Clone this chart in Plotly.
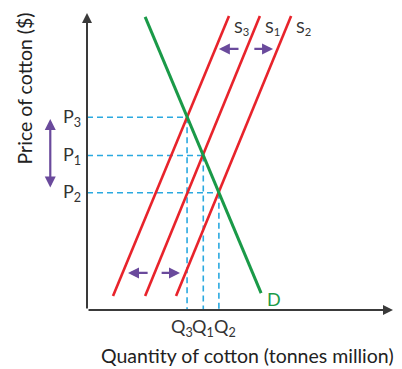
import plotly.graph_objects as go

# Demand curve endpoints (quantity, price)
demand_q = [19.0, 56.9]
demand_p = [98.7, 5.7]

# Supply curves: S3 (decrease), S1 (original), S2 (increase)
supply_names = ["S<sub>3</sub>", "S<sub>1</sub>", "S<sub>2</sub>"]
supply_q = [[8.5, 46.4], [19.0, 56.5], [29.1, 66.7]]
supply_p = [[4.7, 99.0], [4.7, 99.0], [4.7, 99.0]]

# Equilibrium points for S3, S1, S2
eq_q = [32.7, 38.0, 43.1]
eq_p = [64.9, 52.0, 39.5]
price_labels = ["P<sub>3</sub>", "P<sub>1</sub>", "P<sub>2</sub>"]
qty_labels = ["Q<sub>3</sub>", "Q<sub>1</sub>", "Q<sub>2</sub>"]
qty_label_shift = [-5, 0, 6]   # pixel nudges so the crowded labels sit side by side

RED = "#e8232b"
GREEN = "#1a9a48"
BLUE = "#2aa9e0"
PURPLE = "#6a4a9c"
AXIS = "#3a3a3a"
TEXT = "#333333"
FONT = "Lato"

fig = go.Figure()

# Dashed guide lines from the axes to each equilibrium
for q, p in zip(eq_q, eq_p):
    fig.add_trace(go.Scatter(x=[0, q], y=[p, p], mode="lines",
                             line=dict(color=BLUE, width=1.6, dash="6px,4px"),
                             hoverinfo="skip", showlegend=False))
    fig.add_trace(go.Scatter(x=[q, q], y=[p, 0], mode="lines",
                             line=dict(color=BLUE, width=1.6, dash="6px,4px"),
                             hoverinfo="skip", showlegend=False))

# Supply curves
for q, p in zip(supply_q, supply_p):
    fig.add_trace(go.Scatter(x=q, y=p, mode="lines",
                             line=dict(color=RED, width=2.6),
                             showlegend=False))

# Demand curve
fig.add_trace(go.Scatter(x=demand_q, y=demand_p, mode="lines",
                         line=dict(color=GREEN, width=3),
                         showlegend=False))

ann = []

# Axes with arrowheads
ann.append(dict(x=0, y=100, ax=0, ay=0, xref="x", yref="y", axref="x", ayref="y",
                showarrow=True, arrowhead=2, arrowsize=1, arrowwidth=2,
                arrowcolor=AXIS, text=""))
ann.append(dict(x=100, y=0, ax=0, ay=0, xref="x", yref="y", axref="x", ayref="y",
                showarrow=True, arrowhead=2, arrowsize=1, arrowwidth=2,
                arrowcolor=AXIS, text=""))

# Shift arrows between supply curves (top and bottom)
shift_arrows = [
    (50.0, 87.9, 43.1, 87.9), (54.2, 87.9, 60.8, 87.9),
    (20.3, 12.5, 13.4, 12.5), (23.9, 12.5, 30.4, 12.5),
]
for x0, y0, x1, y1 in shift_arrows:
    ann.append(dict(x=x1, y=y1, ax=x0, ay=y0, xref="x", yref="y",
                    axref="x", ayref="y", showarrow=True, arrowhead=2,
                    arrowsize=1, arrowwidth=2.2, arrowcolor=PURPLE, text=""))

# Price-movement double arrow beside the price axis
ann.append(dict(x=-0.12, y=0.643, ax=0, ay=70, xref="paper", yref="paper",
                axref="pixel", ayref="pixel", showarrow=True, arrowhead=2,
                startarrowhead=2, arrowside="end+start", arrowsize=1,
                startarrowsize=1, arrowwidth=2.2, arrowcolor=PURPLE, text=""))

# Price labels
for p, lab in zip(eq_p, price_labels):
    ann.append(dict(x=-0.012, y=p / 100, xref="paper", yref="paper", text=lab,
                    showarrow=False, xanchor="right", yanchor="middle",
                    font=dict(family=FONT, size=18, color=TEXT)))

# Quantity labels
for q, lab, dx in zip(eq_q, qty_labels, qty_label_shift):
    ann.append(dict(x=q / 100, y=-0.012, xref="paper", yref="paper", text=lab,
                    showarrow=False, xanchor="center", yanchor="top", xshift=dx,
                    borderpad=0, font=dict(family=FONT, size=18, color=TEXT)))

# Supply labels
for q, p, lab in zip(supply_q, supply_p, supply_names):
    ann.append(dict(x=(q[1] + 1.3) / 100, y=(p[1] - 4.0) / 100,
                    xref="paper", yref="paper", text=lab, borderpad=0,
                    showarrow=False, xanchor="left", yanchor="middle",
                    font=dict(family=FONT, size=16, color=TEXT)))

# Demand label
ann.append(dict(x=(demand_q[1] + 1.3) / 100, y=(demand_p[1] - 2.0) / 100,
                xref="paper", yref="paper",
                text="D", showarrow=False, xanchor="left", yanchor="middle",
                font=dict(family=FONT, size=18, color=GREEN)))

# Axis titles
ann.append(dict(x=-0.205, y=0.747, xref="paper", yref="paper",
                text="Price of cotton ($)", textangle=-90, showarrow=False,
                xanchor="center", yanchor="middle",
                font=dict(family=FONT, size=19.5, color="#222222")))
ann.append(dict(x=0.523, y=-0.152, xref="paper", yref="paper",
                text="Quantity of cotton (tonnes million)", showarrow=False,
                xanchor="center", yanchor="middle",
                font=dict(family=FONT, size=19.5, color="#222222")))

fig.update_layout(
    width=402, height=369,
    margin=dict(l=87, r=9, t=13, b=59),
    plot_bgcolor="white", paper_bgcolor="white",
    font=dict(family=FONT, size=18, color=TEXT),
    xaxis=dict(range=[0, 100], showgrid=False, zeroline=False,
               showticklabels=False, ticks="", showline=False, fixedrange=True),
    yaxis=dict(range=[0, 100], showgrid=False, zeroline=False,
               showticklabels=False, ticks="", showline=False, fixedrange=True),
    annotations=ann,
    showlegend=False,
)

fig.write_html("out.html")
